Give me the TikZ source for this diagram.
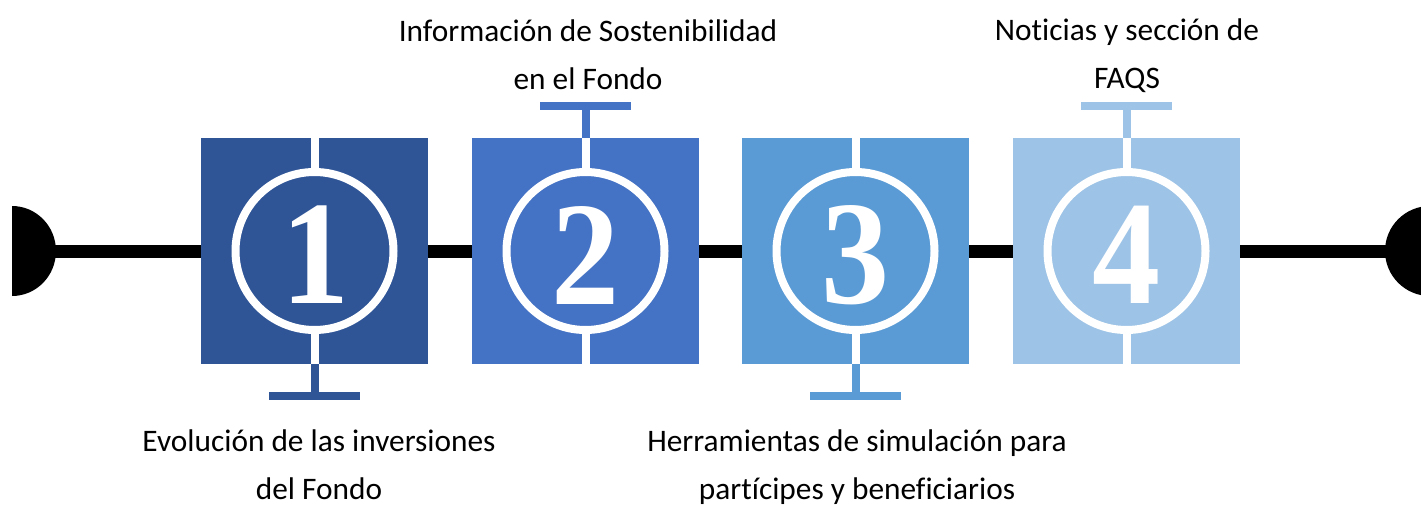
\documentclass[tikz,border=0pt]{standalone}
\usepackage{fontspec}
\setsansfont[Ligatures=NoCommon]{Carlito}
\newfontfamily\digitfont{Liberation Serif}
\definecolor{cA}{HTML}{2F5597}
\definecolor{cB}{HTML}{4472C4}
\definecolor{cC}{HTML}{5B9BD5}
\definecolor{cD}{HTML}{9DC3E6}
\tikzset{
  px/.style={x=0.75pt,y=-0.75pt},
  spine/.style={line width=9.75pt,black},
  square/.style={rectangle,draw=none,minimum width=170.25pt,minimum height=169.5pt,inner sep=0pt},
  ring/.style={circle,draw=white,line width=6pt,minimum size=118.5pt,inner sep=0pt},
  digit/.style={font=\digitfont\fontsize{111pt}{111pt}\selectfont\bfseries,text=white,inner sep=0pt,xscale=0.92},
  whitestem/.style={draw=white,line width=6pt},
  stem/.style={line width=6pt},
  bar/.style={line width=6pt},
  lbl/.style={font=\sffamily\fontsize{23.5pt}{36pt}\selectfont,align=center,text=black,inner sep=0pt}
}
\begin{document}
\begin{tikzpicture}[px]
\useasboundingbox (0,0) rectangle (1421,504);
\clip (0,0) rectangle (1421,504);
% end caps
\coordinate (capL) at (12,251);
\coordinate (capR) at (1430,251);
\fill[black] (12,296) arc[start angle=90,end angle=-90,x radius=44,y radius=45] -- cycle;
\fill[black] (capR) circle[x radius=45,y radius=45];
\draw[spine] (capL) -- (capR);
% squares
\node[square,fill=cA] (b1) at (314.5,251) {};
\node[square,fill=cB] (b2) at (585.5,251) {};
\node[square,fill=cC] (b3) at (855.5,251) {};
\node[square,fill=cD] (b4) at (1126.5,251) {};
% rings
\node[ring] (r1) at (b1) {};
\node[ring] (r2) at (b2) {};
\node[ring] (r3) at (b3) {};
\node[ring] (r4) at (b4) {};
% digits
\node[digit] (d1) at (316,255) {1};
\node[digit] (d2) at (585.5,255) {2};
\node[digit] (d3) at (855.5,255) {3};
\node[digit] (d4) at (1127,255) {4};
% white stems
\foreach \i in {1,2,3,4}{
  \draw[whitestem] (b\i.north) -- (r\i.north);
  \draw[whitestem] (b\i.south) -- (r\i.south);
}
% T connectors
\coordinate (t1) at (314.5,396);
\coordinate (t2) at (585.5,106);
\coordinate (t3) at (855.5,396);
\coordinate (t4) at (1126.5,106);
\draw[stem,cA] (b1.south) -- (t1);
\draw[bar,cA] ([xshift=-45.5*0.75pt]t1) -- ([xshift=45.5*0.75pt]t1);
\draw[stem,cB] (b2.north) -- (t2);
\draw[bar,cB] ([xshift=-45.5*0.75pt]t2) -- ([xshift=45.5*0.75pt]t2);
\draw[stem,cC] (b3.south) -- (t3);
\draw[bar,cC] ([xshift=-45.5*0.75pt]t3) -- ([xshift=45.5*0.75pt]t3);
\draw[stem,cD] (b4.north) -- (t4);
\draw[bar,cD] ([xshift=-45.5*0.75pt]t4) -- ([xshift=45.5*0.75pt]t4);
% labels
\node[lbl] (l1) at (319,465) {Evolución de las inversiones\\del Fondo};
\node[lbl] (l2) at (588,54.5) {Información de Sostenibilidad\\en el Fondo};
\node[lbl] (l3) at (857,467) {Herramientas de simulación para\\partícipes y beneficiarios};
\node[lbl] (l4) at (1127,56) {Noticias y sección de\\FAQS};
\end{tikzpicture}
\end{document}
